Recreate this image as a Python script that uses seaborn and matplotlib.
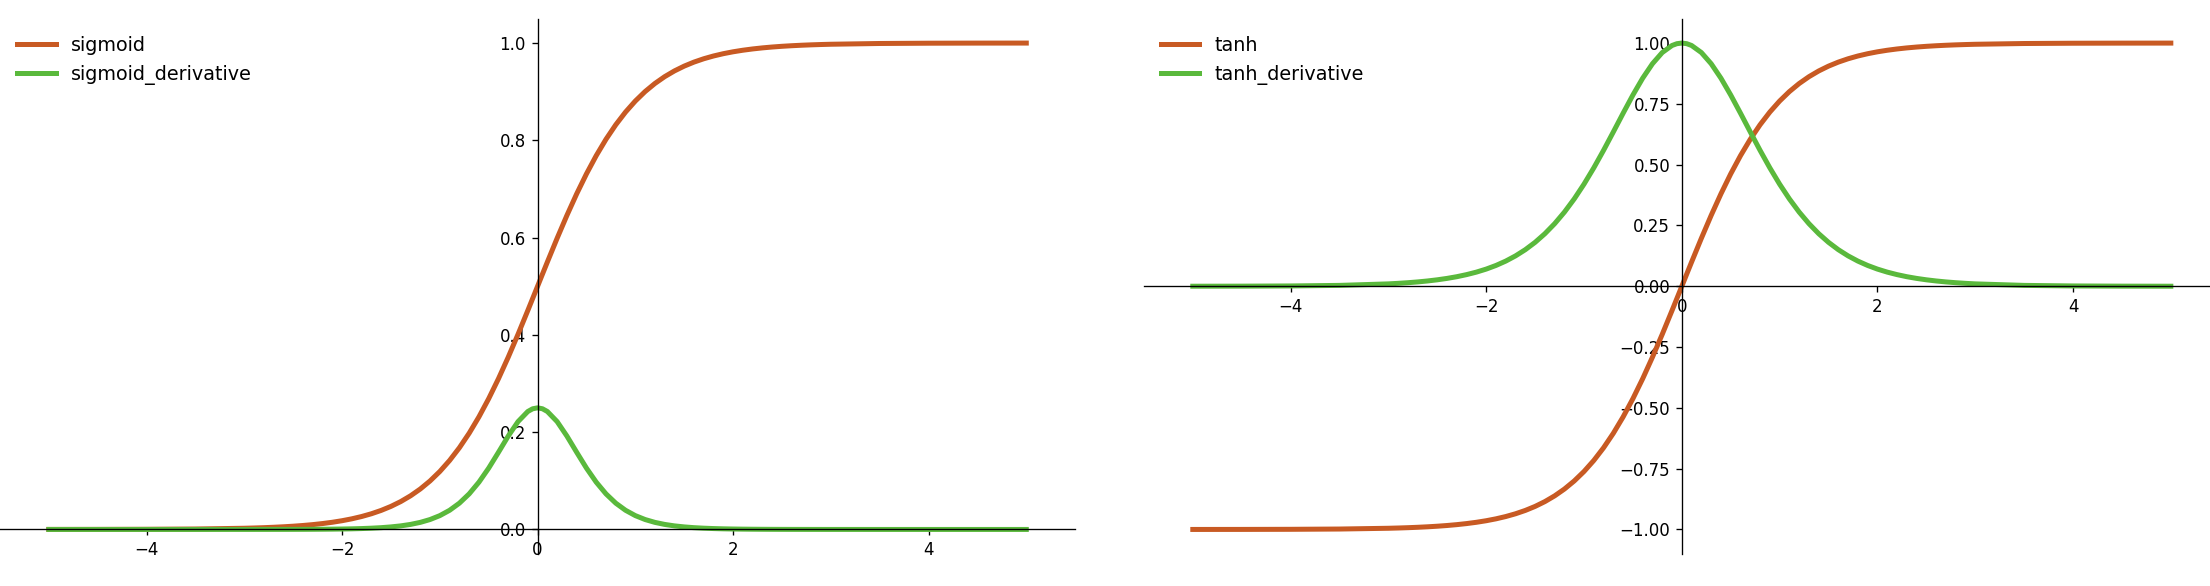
import matplotlib
matplotlib.use("Agg")
import matplotlib.pyplot as plt
import seaborn as sns

# sample positions along x (denser where the curves bend)
x_vals = [-5.0, -4.5, -4.0, -3.5,
          -3.0, -2.9, -2.8, -2.7, -2.6, -2.5, -2.4, -2.3, -2.2, -2.1,
          -2.0, -1.9, -1.8, -1.7, -1.6, -1.5, -1.4, -1.3, -1.2, -1.1,
          -1.0, -0.9, -0.8, -0.7, -0.6, -0.5, -0.4, -0.3, -0.2, -0.1, -0.05,
          0.0, 0.05, 0.1, 0.2, 0.3, 0.4, 0.5, 0.6, 0.7, 0.8, 0.9,
          1.0, 1.1, 1.2, 1.3, 1.4, 1.5, 1.6, 1.7, 1.8, 1.9,
          2.0, 2.1, 2.2, 2.3, 2.4, 2.5, 2.6, 2.7, 2.8, 2.9,
          3.0, 3.5, 4.0, 4.5, 5.0]

sigmoid_vals = [0.00005, 0.00012, 0.00034, 0.00091,
                0.00247, 0.00302, 0.00368, 0.00450, 0.00549, 0.00669,
                0.00816, 0.00995, 0.01213, 0.01477,
                0.01799, 0.02188, 0.02660, 0.03229, 0.03917, 0.04743,
                0.05733, 0.06914, 0.08317, 0.09975,
                0.11920, 0.14185, 0.16798, 0.19782, 0.23148, 0.26894,
                0.31003, 0.35434, 0.40131, 0.45017, 0.47502,
                0.50000, 0.52498, 0.54983, 0.59869, 0.64566, 0.68997, 0.73106,
                0.76852, 0.80218, 0.83202, 0.85815,
                0.88080, 0.90025, 0.91683, 0.93086, 0.94267, 0.95257,
                0.96083, 0.96771, 0.97340, 0.97812,
                0.98201, 0.98523, 0.98787, 0.99005, 0.99184, 0.99331,
                0.99451, 0.99550, 0.99632, 0.99698,
                0.99753, 0.99909, 0.99966, 0.99988, 0.99995]

sigmoid_deriv_vals = [0.0, 0.0, 0.0, 0.0,
                      0.00003, 0.00004, 0.00006, 0.00008, 0.00011, 0.00016,
                      0.00022, 0.00032, 0.00045, 0.00064,
                      0.00091, 0.00129, 0.00183, 0.00260, 0.00368, 0.00522,
                      0.00734, 0.01035, 0.01456, 0.02041,
                      0.02845, 0.03940, 0.05404, 0.07313, 0.09720, 0.12613,
                      0.15869, 0.19203, 0.22171, 0.24250, 0.24810,
                      0.25000, 0.24810, 0.24250, 0.22171, 0.19203, 0.15869,
                      0.12613, 0.09720, 0.07313, 0.05404, 0.03940,
                      0.02845, 0.02041, 0.01456, 0.01035, 0.00734, 0.00522,
                      0.00368, 0.00260, 0.00183, 0.00129,
                      0.00091, 0.00064, 0.00045, 0.00032, 0.00022, 0.00016,
                      0.00011, 0.00008, 0.00006, 0.00004,
                      0.00003, 0.0, 0.0, 0.0, 0.0]

tanh_vals = [-0.99991, -0.99975, -0.99933, -0.99818,
             -0.99505, -0.99396, -0.99263, -0.99101, -0.98903, -0.98661,
             -0.98367, -0.98010, -0.97574, -0.97045,
             -0.96403, -0.95624, -0.94681, -0.93541, -0.92167, -0.90515,
             -0.88535, -0.86172, -0.83365, -0.80050,
             -0.76159, -0.71630, -0.66404, -0.60437, -0.53705, -0.46212,
             -0.37995, -0.29131, -0.19738, -0.09967, -0.04996,
             0.00000, 0.04996, 0.09967, 0.19738, 0.29131, 0.37995, 0.46212,
             0.53705, 0.60437, 0.66404, 0.71630,
             0.76159, 0.80050, 0.83365, 0.86172, 0.88535, 0.90515,
             0.92167, 0.93541, 0.94681, 0.95624,
             0.96403, 0.97045, 0.97574, 0.98010, 0.98367, 0.98661,
             0.98903, 0.99101, 0.99263, 0.99396,
             0.99505, 0.99818, 0.99933, 0.99975, 0.99991]

tanh_deriv_vals = [0.00018, 0.00049, 0.00134, 0.00364,
                   0.00987, 0.01204, 0.01469, 0.01790, 0.02182, 0.02660,
                   0.03239, 0.03940, 0.04799, 0.05823,
                   0.07065, 0.08561, 0.10355, 0.12501, 0.15052, 0.18070,
                   0.21616, 0.25744, 0.30503, 0.35920,
                   0.41997, 0.48691, 0.55905, 0.63474, 0.71158, 0.78645,
                   0.85564, 0.91514, 0.96104, 0.99007, 0.99750,
                   1.00000, 0.99750, 0.99007, 0.96104, 0.91514, 0.85564,
                   0.78645, 0.71158, 0.63474, 0.55905, 0.48691,
                   0.41997, 0.35920, 0.30503, 0.25744, 0.21616, 0.18070,
                   0.15052, 0.12501, 0.10355, 0.08561,
                   0.07065, 0.05823, 0.04799, 0.03940, 0.03239, 0.02660,
                   0.02182, 0.01790, 0.01469, 0.01204,
                   0.00987, 0.00364, 0.00134, 0.00049, 0.00018]

ORANGE = "#c85a23"
GREEN = "#5ab93c"

fig = plt.figure(figsize=(2210 / 120, 586 / 120), dpi=120)
ax_left = fig.add_axes([0.0, 0.055, 0.4865, 0.913])
ax_right = fig.add_axes([0.5176, 0.055, 0.4868, 0.913])

panels = [
    (ax_left, sigmoid_vals, sigmoid_deriv_vals, "sigmoid", "sigmoid_derivative"),
    (ax_right, tanh_vals, tanh_deriv_vals, "tanh", "tanh_derivative"),
]

for ax, f_vals, d_vals, f_name, d_name in panels:
    sns.lineplot(x=x_vals, y=f_vals, ax=ax, color=ORANGE, linewidth=3, label=f_name)
    sns.lineplot(x=x_vals, y=d_vals, ax=ax, color=GREEN, linewidth=3, label=d_name)
    # axes cross at the origin, like a math textbook plot
    ax.spines["left"].set_position("zero")
    ax.spines["bottom"].set_position("zero")
    ax.spines["top"].set_visible(False)
    ax.spines["right"].set_visible(False)
    ax.legend(loc="upper left", frameon=False, fontsize=11.5)

fig.savefig("out.png", dpi=120)
